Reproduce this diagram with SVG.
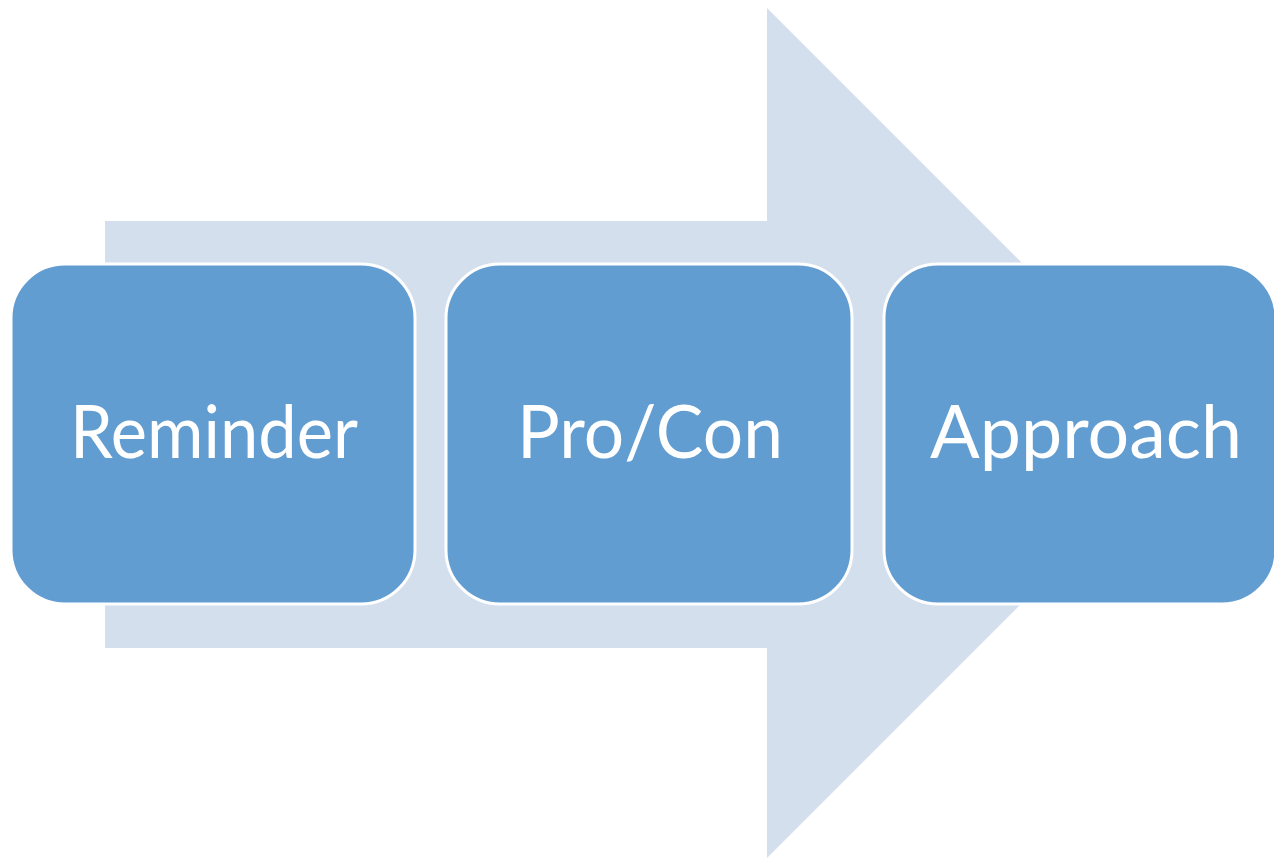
<svg xmlns="http://www.w3.org/2000/svg" width="1274" height="858" viewBox="0 0 1274 858">
  <style>
    .bg { fill: #ffffff; }
    .flow { fill: #d4dfee; }
    .step rect { fill: #629dd1; stroke: #ffffff; stroke-width: 3; }
    .step text { fill: #ffffff; font-family: "Lato", "Noto Sans", sans-serif; font-size: 74px; text-anchor: middle; }
  </style>
  <rect class="bg" x="0" y="0" width="1274" height="858"/>
  <!-- large background arrow -->
  <g id="connectors">
    <polygon class="flow" points="105,221 767,221 767,8 1192,433 767,858 767,648 105,648"/>
  </g>
  <g id="step-reminder" class="step">
    <rect x="11" y="264" width="404" height="340" rx="54" ry="54"/>
    <text x="214" y="458" textLength="288" lengthAdjust="spacingAndGlyphs">Reminder</text>
  </g>
  <g id="step-procon" class="step">
    <rect x="446" y="264" width="406" height="340" rx="54" ry="54"/>
    <text x="650" y="458" textLength="266" lengthAdjust="spacingAndGlyphs">Pro/Con</text>
  </g>
  <g id="step-approach" class="step">
    <rect x="884" y="264" width="392" height="340" rx="54" ry="54"/>
    <text x="1086" y="458" textLength="312" lengthAdjust="spacingAndGlyphs">Approach</text>
  </g>
</svg>
